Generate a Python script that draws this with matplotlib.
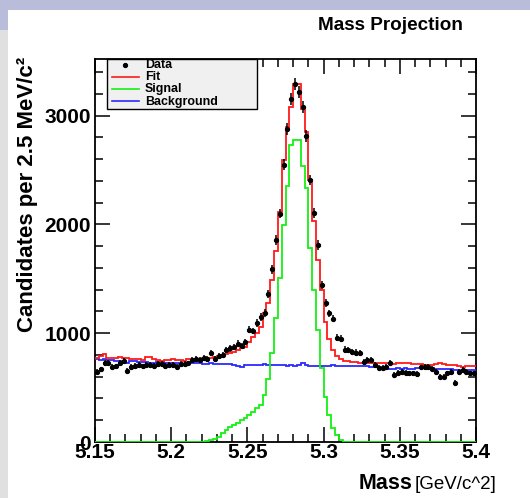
import numpy as np
import matplotlib
matplotlib.use("Agg")
import matplotlib.pyplot as plt
from matplotlib.patches import Rectangle
from matplotlib.lines import Line2D

plt.rcParams['font.family'] = ['Liberation Sans', 'DejaVu Sans']

# Binning: 100 bins of 2.5 MeV between 5.15 and 5.40 GeV/c^2
mass_lo, mass_hi, n_bins = 5.15, 5.40, 100

data_counts = [
    646, 668, 723, 729, 690, 695, 730, 745, 655, 690,
    700, 710, 695, 705, 710, 700, 715, 720, 700, 712,
    710, 690, 718, 715, 722, 755, 765, 755, 770, 760,
    820, 765, 790, 800, 845, 860, 875, 905, 880, 920,
    1030, 1020, 1093, 1150, 1185, 1360, 1587, 1856, 2100, 2546,
    2874, 3149, 3290, 3214, 3076, 2812, 2408, 2105, 1810, 1440,
    1280, 1183, 1133, 960, 950, 850, 845, 828, 822, 818,
    735, 754, 750, 708, 680, 680, 690, 723, 616, 637,
    645, 637, 630, 630, 625, 686, 690, 690, 675, 645,
    600, 600, 630, 645, 545, 645, 662, 645, 630, 630,
]

fit_curve = [
    770, 790, 806, 772, 770, 772, 785, 770, 769, 762,
    760, 760, 758, 782, 780, 760, 758, 748, 750, 752,
    760, 755, 752, 748, 760, 760, 760, 762, 770, 772,
    775, 784, 790, 800, 805, 821, 830, 846, 860, 876,
    922, 962, 999, 1060, 1183, 1275, 1492, 1755, 2110, 2591,
    2898, 3081, 3287, 3287, 3057, 2852, 2408, 2030, 1672, 1400,
    1100, 950, 850, 790, 760, 745, 740, 735, 732, 730,
    728, 728, 725, 722, 723, 722, 724, 728, 720, 724,
    729, 728, 722, 720, 720, 716, 708, 708, 710, 720,
    722, 718, 712, 708, 708, 694, 692, 696, 695, 694,
]

signal_curve = [
    0, 0, 0, 0, 0, 0, 0, 0, 0, 0,
    0, 0, 0, 0, 0, 0, 0, 0, 0, 0,
    0, 0, 0, 0, 0, 1, 1, 1, 3, 5,
    15, 25, 46, 83, 110, 138, 156, 175, 200, 220,
    248, 276, 312, 340, 430, 580, 820, 1140, 1507, 1990,
    2353, 2729, 2775, 2775, 2536, 2331, 1783, 1397, 1030, 680,
    416, 248, 129, 64, 18, 2, 0, 0, 0, 0,
    0, 0, 0, 0, 0, 0, 0, 0, 0, 0,
    0, 0, 0, 0, 0, 0, 0, 0, 0, 0,
    0, 0, 0, 0, 0, 0, 0, 0, 0, 0,
]

background_curve = [
    760, 758, 762, 755, 750, 748, 745, 738, 726, 740,
    742, 738, 735, 733, 730, 728, 732, 735, 728, 730,
    725, 722, 718, 717, 728, 730, 725, 722, 720, 718,
    722, 720, 715, 718, 720, 716, 712, 700, 690, 705,
    710, 712, 708, 712, 715, 710, 708, 705, 712, 708,
    700, 705, 702, 712, 722, 708, 700, 698, 702, 700,
    700, 695, 705, 702, 698, 700, 703, 700, 697, 702,
    698, 695, 690, 688, 686, 684, 688, 670, 672, 676,
    675, 677, 675, 674, 676, 678, 688, 680, 676, 675,
    675, 673, 670, 668, 662, 665, 664, 662, 661, 663,
]

x_tick_values = [5.15, 5.2, 5.25, 5.3, 5.35, 5.4]
x_tick_labels = ["5.15", "5.2", "5.25", "5.3", "5.35", "5.4"]
y_tick_values = [0, 1000, 2000, 3000]
y_tick_labels = ["0", "1000", "2000", "3000"]

W, H = 530, 498
fig = plt.figure(figsize=(W / 100, H / 100), dpi=100)
fig.patch.set_facecolor("white")


def fx(px):
    return px / W


def fy(py):
    return 1 - py / H


# slide frame around the canvas
fig.patches.append(Rectangle((0, fy(10)), 1, 10 / H, transform=fig.transFigure,
                             facecolor="#b9bdd9", edgecolor="none", zorder=0))
fig.patches.append(Rectangle((0, fy(30)), fx(8), 20 / H, transform=fig.transFigure,
                             facecolor="#b9bdd9", edgecolor="none", zorder=0))
fig.patches.append(Rectangle((0, 0), fx(8), fy(30), transform=fig.transFigure,
                             facecolor="#e0e0e0", edgecolor="none", zorder=0))

ax = fig.add_axes([fx(95), fy(442), fx(476) - fx(95), fy(59) - fy(442)])

edges = np.linspace(mass_lo, mass_hi, n_bins + 1)
centers = 0.5 * (edges[:-1] + edges[1:])
counts = np.array(data_counts, dtype=float)

ax.stairs(background_curve, edges, baseline=None, color="#2a2aff", lw=1.3, zorder=3)
ax.stairs(signal_curve, edges, baseline=None, color="#14f014", lw=1.3, zorder=3)
ax.stairs(fit_curve, edges, baseline=None, color="#ff1a1a", lw=1.3, zorder=3)
ax.errorbar(centers, counts, yerr=np.sqrt(counts), xerr=0.0009, fmt="o",
            color="black", ms=2.8, elinewidth=1.1, capsize=0, zorder=4)

ax.set_xlim(mass_lo, mass_hi)
ax.set_ylim(0, 3520)
ax.set_xticks(x_tick_values)
ax.set_xticklabels(x_tick_labels)
ax.set_xticks(np.arange(5.16, 5.40, 0.01), minor=True)
ax.set_yticks(y_tick_values)
ax.set_yticklabels(y_tick_labels)
ax.set_yticks(np.arange(200, 3520, 200), minor=True)
ax.tick_params(which="both", direction="in", top=True, right=True, width=1.1,
               labelsize=15)
ax.tick_params(which="major", length=11)
ax.tick_params(which="minor", length=6)
ax.tick_params(axis="x", pad=1)
ax.tick_params(axis="y", pad=3)
for lab in ax.get_xticklabels() + ax.get_yticklabels():
    lab.set_fontweight("bold")
for sp in ax.spines.values():
    sp.set_linewidth(1.3)

# titles
fig.text(fx(463), fy(25), "Mass Projection", ha="right", va="center",
         fontsize=13.6, fontweight="bold")
fig.text(fx(28), fy(57), "Candidates per 2.5 MeV/c²", rotation=90,
         ha="center", va="top", fontsize=16, fontweight="bold")
fig.text(fx(415), fy(489), "[GeV/c^2]", ha="left", va="baseline", fontsize=13.5)
fig.text(fx(412), fy(489), "Mass", ha="right", va="baseline", fontsize=15.5,
         fontweight="bold")

# legend box
fig.patches.append(Rectangle((fx(107), fy(109)), fx(257) - fx(107), fy(59) - fy(109),
                             transform=fig.transFigure, facecolor="#f0f0f0",
                             edgecolor="black", lw=1.0, zorder=5))
rows = [("Data", None, 65.5), ("Fit", "#ff1a1a", 77), ("Signal", "#14f014", 89),
        ("Background", "#2a2aff", 101.5)]
for label, col, py in rows:
    if col is None:
        fig.lines.append(Line2D([fx(125)], [fy(py)], marker="o", ms=2.8, color="black",
                                transform=fig.transFigure, zorder=6))
    else:
        fig.lines.append(Line2D([fx(112), fx(139)], [fy(py), fy(py)], color=col, lw=1.2,
                                transform=fig.transFigure, zorder=6))
    fig.text(fx(145), fy(py), label, ha="left", va="center", fontsize=8.9,
             fontweight="bold", zorder=7)

fig.savefig("out.png", dpi=100)
